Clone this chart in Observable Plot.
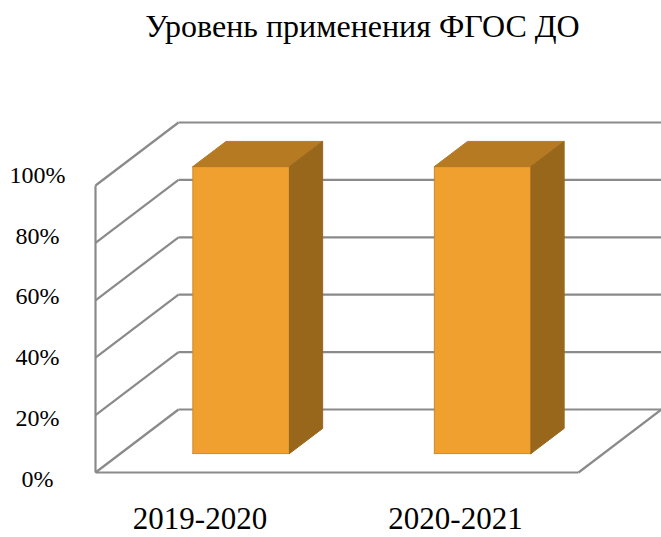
<!DOCTYPE html>
<html>
<head>
<meta charset="utf-8">
<script src="https://cdn.jsdelivr.net/npm/d3@7"></script>
<script src="https://cdn.jsdelivr.net/npm/@observablehq/plot@0.6"></script>
<style>
  html, body { margin: 0; padding: 0; background: #fff; font-family: 'Liberation Serif', serif; }
  #title {
    font-family: 'Liberation Serif', serif;
    font-size: 32px;
    line-height: 40px;
    height: 54px;
    padding-top: 6px;
    padding-left: 64px;
    text-align: center;
    color: #000;
  }
  #chart svg { display: block; }
</style>
</head>
<body>
<div id="title">Уровень применения ФГОС ДО</div>
<div id="chart"></div>
<script>
// ---- data ----
const categories = ["2019-2020", "2020-2021"];
const values = [1.0, 1.0];
const ticks = [0, 0.2, 0.4, 0.6, 0.8, 1.0];
const tickLabels = ["0%", "20%", "40%", "60%", "80%", "100%"];

// ---- layout (3D oblique projection, in scale units) ----
const DX = 83 / 241.5;   // x shift for full depth
const DY = 63 / 287;     // y shift for full depth
const barHalf = 0.2;     // half bar width (band units)
const barD0 = 0.3, barD1 = 0.7; // bar depth range
const labelSpread = 1.058;
const yLabelShift = -0.0226;
const xLabelShift = -0.0963;

const P = (x, y, d) => ({x: x + d * DX, y: y + d * DY});
const seg = (a, b) => ({x1: a.x, y1: a.y, x2: b.x, y2: b.y});

const gridBack = ticks.map(t => seg(P(0, t, 1), P(categories.length, t, 1)));
const gridLeft = ticks.map(t => seg(P(0, t, 0), P(0, t, 1)));
const frame = [
  seg(P(0, 0, 0), P(0, 1, 0)),
  seg(P(0, 0, 0), P(categories.length, 0, 0)),
  seg(P(categories.length, 0, 0), P(categories.length, 0, 1))
];

const fronts = [], tops = [], sides = [];
categories.forEach((c, i) => {
  const cx = i + 0.5, v = values[i];
  const L = cx - barHalf, R = cx + barHalf;
  const poly = (arr, pts) => pts.concat([pts[0]]).forEach(p => arr.push({...p, id: c}));
  poly(fronts, [P(L, 0, barD0), P(R, 0, barD0), P(R, v, barD0), P(L, v, barD0)]);
  poly(tops, [P(L, v, barD0), P(R, v, barD0), P(R, v, barD1), P(L, v, barD1)]);
  poly(sides, [P(R, 0, barD0), P(R, 0, barD1), P(R, v, barD1), P(R, v, barD0)]);
});

const gridStyle = {stroke: "#8a8a8a", strokeWidth: 2.2};

const chart = Plot.plot({
  width: 661,
  height: 477,
  marginTop: 0, marginRight: 0, marginBottom: 0, marginLeft: 0,
  x: {type: "linear", domain: [0, categories.length], range: [95, 578], axis: null},
  y: {type: "linear", domain: [0, 1], range: [412, 125], axis: null},
  style: {fontFamily: "Liberation Serif", background: "#fff"},
  marks: [
    Plot.link(gridBack, {x1: "x1", y1: "y1", x2: "x2", y2: "y2", ...gridStyle}),
    Plot.link(gridLeft, {x1: "x1", y1: "y1", x2: "x2", y2: "y2", ...gridStyle}),
    Plot.link(frame, {x1: "x1", y1: "y1", x2: "x2", y2: "y2", ...gridStyle}),
    Plot.line(fronts, {x: "x", y: "y", z: "id", fill: "#F0A02E", stroke: "#C98A2C", strokeWidth: 1}),
    Plot.line(tops, {x: "x", y: "y", z: "id", fill: "#B67B22", stroke: "#B67B22", strokeWidth: 1}),
    Plot.line(sides, {x: "x", y: "y", z: "id", fill: "#98671C", stroke: "#98671C", strokeWidth: 1}),
    Plot.text(ticks, {
      y: t => yLabelShift + t * labelSpread,
      text: (t, i) => tickLabels[i],
      frameAnchor: "left", dx: 37, textAnchor: "middle", lineAnchor: "middle",
      fontSize: 24, fill: "#000"
    }),
    Plot.text(categories, {
      x: (c, i) => xLabelShift + (i + 0.5) * labelSpread,
      text: c => c,
      frameAnchor: "bottom", dy: -18, textAnchor: "middle", lineAnchor: "middle",
      fontSize: 31, fill: "#000"
    })
  ]
});
document.getElementById("chart").appendChild(chart);
</script>
</body>
</html>
